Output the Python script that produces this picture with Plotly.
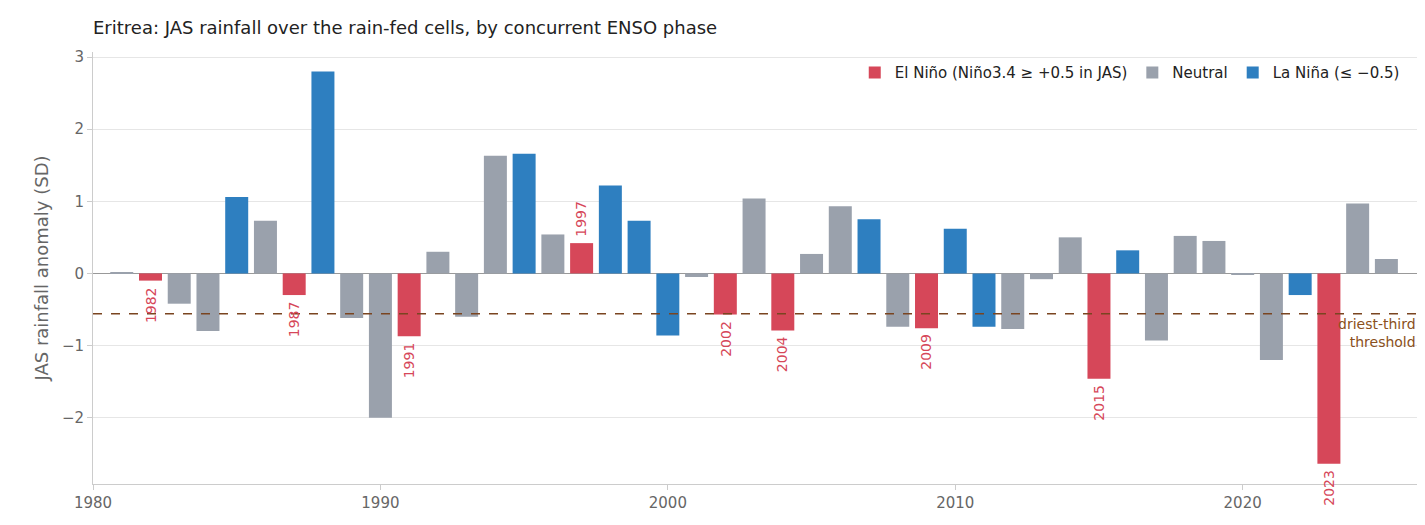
import plotly.graph_objects as go

years = list(range(1981, 2026))
anomaly = [0.02, -0.10, -0.42, -0.80, 1.06, 0.73, -0.30, 2.80, -0.62, -2.00,
           -0.87, 0.30, -0.60, 1.63, 1.66, 0.54, 0.42, 1.22, 0.73, -0.86,
           -0.05, -0.57, 1.04, -0.79, 0.27, 0.93, 0.75, -0.74, -0.76, 0.62,
           -0.74, -0.77, -0.08, 0.50, -1.46, 0.32, -0.93, 0.52, 0.45, -0.02,
           -1.20, -0.30, -2.64, 0.97, 0.20]
phase = ["N", "E", "N", "N", "L", "N", "E", "L", "N", "N",
         "E", "N", "N", "N", "L", "N", "E", "L", "L", "L",
         "N", "E", "N", "E", "N", "N", "L", "N", "E", "L",
         "L", "N", "N", "N", "E", "L", "N", "N", "N", "N",
         "N", "L", "E", "N", "N"]
threshold = -0.56

colors = {"E": "#d64759", "N": "#9aa1ac", "L": "#2e7fc0"}
names = {"E": "El Niño (Niño3.4 ≥ +0.5 in JAS)", "N": "Neutral", "L": "La Niña (≤ −0.5)"}

fig = go.Figure()
for p in ["E", "N", "L"]:
    xs = [y for y, ph in zip(years, phase) if ph == p]
    ys = [a for a, ph in zip(anomaly, phase) if ph == p]
    fig.add_trace(go.Bar(x=xs, y=ys, name=names[p], marker_color=colors[p],
                         marker_line_width=0, width=0.8))

# El Niño year labels
for y, a, ph in zip(years, anomaly, phase):
    if ph != "E":
        continue
    fig.add_annotation(x=y, y=a, text=str(y), textangle=-90, showarrow=False,
                       yanchor="top" if a < 0 else "bottom", yshift=-4 if a < 0 else 4,
                       font=dict(color="#d64759", size=14))

fig.add_hline(y=threshold, layer="above",
              line=dict(color="#7a4520", width=1.5, dash="dash"))
fig.add_annotation(x=1, xref="paper", y=threshold, text="driest-third<br>threshold",
                   showarrow=False, xanchor="right", yanchor="top", align="right",
                   font=dict(color="#8a5020", size=14))

fig.update_layout(
    width=1425, height=525,
    margin=dict(l=85, r=15, t=44, b=49),
    plot_bgcolor="white", paper_bgcolor="white",
    font=dict(family="DejaVu Sans", size=15, color="#666"),
    title=dict(text="Eritrea: JAS rainfall over the rain-fed cells, by concurrent ENSO phase",
               xref="paper", x=0, xanchor="left", y=0.975, font=dict(size=18, color="#222")),
    barmode="overlay", bargap=0.2,
    legend=dict(orientation="h", x=0.99, xanchor="right", y=0.99, yanchor="top",
                bgcolor="rgba(0,0,0,0)", font=dict(size=15, color="#222")),
    xaxis=dict(range=[1980, 2026.1], tickvals=[1980, 1990, 2000, 2010, 2020],
               showgrid=False, showline=True, linecolor="#ccc", ticks="outside",
               tickcolor="#ccc", zeroline=False, automargin=False),
    yaxis=dict(range=[-2.92, 3.07], tickvals=[-2, -1, 0, 1, 2, 3],
               ticktext=["−2", "−1", "0", "1", "2", "3"],
               title=dict(text="JAS rainfall anomaly (SD)", standoff=8), automargin=False,
               showgrid=True, gridcolor="#e6e6e6", showline=True, linecolor="#ccc",
               ticks="outside", tickcolor="#ccc",
               zeroline=True, zerolinecolor="#999", zerolinewidth=1.2),
)

fig.write_html("out.html")
